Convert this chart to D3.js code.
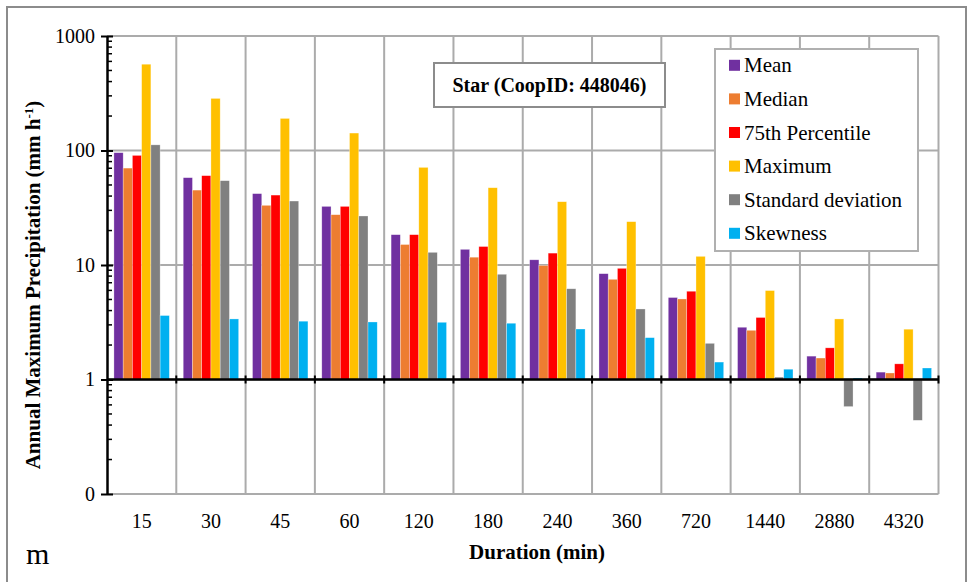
<!DOCTYPE html>
<html>
<head>
<meta charset="utf-8">
<script src="https://cdn.jsdelivr.net/npm/d3@7"></script>
<style>
  body { margin: 0; background: #fff; }
  text { font-family: 'Liberation Serif', 'Times New Roman', Tinos, 'DejaVu Serif', serif !important; }
</style>
</head>
<body>
<svg id="chart" width="967" height="582"></svg>
<script>
// durations (min)
const durations = ['15','30','45','60','120','180','240','360','720','1440','2880','4320'];
const seriesNames = ['Mean','Median','75th Percentile','Maximum','Standard deviation','Skewness'];
const seriesColors = ['#7030A0','#ED7D31','#FF0000','#FFC000','#808080','#00B0F0'];

// values (mm h-1)
const meanVals   = [95.7, 57.9, 42.0, 32.5, 18.4, 13.7, 11.1, 8.4, 5.2, 2.86, 1.60, 1.16];
const medianVals = [70.2, 45.1, 33.2, 27.5, 15.1, 11.7, 9.9, 7.5, 5.05, 2.69, 1.54, 1.14];
const p75Vals    = [90.6, 60.3, 40.8, 32.5, 18.4, 14.5, 12.7, 9.35, 5.9, 3.48, 1.89, 1.37];
const maxVals    = [567, 285, 190.6, 142, 71.2, 47.3, 35.7, 23.9, 11.9, 5.98, 3.38, 2.75];
const sdVals     = [112, 54.5, 36.2, 26.8, 12.9, 8.3, 6.2, 4.13, 2.07, 1.05, 0.58, 0.44];
const skewVals   = [3.62, 3.38, 3.23, 3.18, 3.16, 3.1, 2.76, 2.32, 1.42, 1.23, 1.03, 1.26];

const yTickVals = [0.1, 1, 10, 100, 1000];
const yTickLabels = ['0', '1', '10', '100', '1000'];

const allSeries = [meanVals, medianVals, p75Vals, maxVals, sdVals, skewVals];
const rows = [];
durations.forEach((d, i) => {
    seriesNames.forEach((s, j) => rows.push({duration: d, series: s, value: allSeries[j][i], color: seriesColors[j]}));
});

const serif = "'Liberation Serif', 'Times New Roman', Tinos, 'DejaVu Serif', serif";
const svg = d3.select('#chart');
const plot = {left: 107, right: 938.5, top: 36, bottom: 494};

// outer frame
svg.append('rect').attr('x', 7).attr('y', 7).attr('width', 959).attr('height', 600)
    .attr('fill', 'none').attr('stroke', '#8c8c8c').attr('stroke-width', 2);

const xScale = d3.scaleBand().domain(durations).range([plot.left, plot.right]).padding(0);
const xInner = d3.scaleBand().domain(seriesNames).range([0, xScale.bandwidth()])
    .paddingInner(0).paddingOuter(0.75);
const yScale = d3.scaleLog().domain([0.1, 1000]).range([plot.bottom, plot.top]);

// gridlines
const grid = svg.append('g').attr('class', 'grid').attr('stroke', '#ababab').attr('stroke-width', 2);
grid.selectAll('.hline').data(yTickVals).enter().append('line')
    .attr('x1', plot.left).attr('x2', plot.right)
    .attr('y1', d => yScale(d)).attr('y2', d => yScale(d));
const bounds = durations.map(d => xScale(d) + xScale.bandwidth());
grid.selectAll('.vline').data(bounds).enter().append('line')
    .attr('x1', d => d).attr('x2', d => d)
    .attr('y1', plot.top).attr('y2', plot.bottom);

// bars (from the 1 line, up or down)
svg.selectAll('.bars').data(rows).enter().append('rect')
    .attr('class', 'bars')
    .attr('x', d => xScale(d.duration) + xInner(d.series))
    .attr('width', xInner.bandwidth())
    .attr('y', d => Math.min(yScale(d.value), yScale(1)))
    .attr('height', d => Math.abs(yScale(d.value) - yScale(1)))
    .attr('fill', d => d.color)
    .attr('stroke', '#ffffff').attr('stroke-opacity', 0.5).attr('stroke-width', 0.6);

// y axis with minor ticks
const yAxis = d3.axisLeft(yScale).tickValues(yTickVals)
    .tickFormat((d, i) => yTickLabels[i]).tickSizeInner(6).tickSizeOuter(0).tickPadding(6);
const yAxisDraw = svg.append('g').attr('transform', `translate(${plot.left},0)`).call(yAxis)
    .attr('font-family', serif);
yAxisDraw.select('.domain').attr('stroke', '#000').attr('stroke-width', 2.5);
yAxisDraw.selectAll('.tick line').attr('stroke', '#000').attr('stroke-width', 2).attr('x2', -6).attr('x1', 6);
yAxisDraw.selectAll('text').attr('font-size', 20).attr('fill', '#000');
const minorVals = [];
[0.1, 1, 10, 100].forEach(b => { for (let k = 2; k <= 9; k++) minorVals.push(b * k); });
svg.append('g').selectAll('line').data(minorVals).enter().append('line')
    .attr('x1', plot.left).attr('x2', plot.left + 5)
    .attr('y1', d => yScale(d)).attr('y2', d => yScale(d))
    .attr('stroke', '#000').attr('stroke-width', 1.5);

// x axis line at 1
const xAxisG = svg.append('g');
xAxisG.append('line').attr('x1', plot.left).attr('x2', plot.right)
    .attr('y1', yScale(1)).attr('y2', yScale(1)).attr('stroke', '#000').attr('stroke-width', 2.5);
xAxisG.selectAll('.xt').data(bounds).enter().append('line')
    .attr('x1', d => d).attr('x2', d => d)
    .attr('y1', yScale(1) - 4).attr('y2', yScale(1) + 4)
    .attr('stroke', '#000').attr('stroke-width', 2);

// x labels at the bottom
const xAxis = d3.axisBottom(xScale).tickSize(0).tickPadding(20);
const xAxisDraw = svg.append('g').attr('transform', `translate(0,${plot.bottom})`).call(xAxis)
    .attr('font-family', serif);
xAxisDraw.select('.domain').remove();
xAxisDraw.selectAll('text').attr('font-size', 20).attr('fill', '#000');

// axis titles
svg.append('text').attr('x', 537).attr('y', 559).attr('text-anchor', 'middle')
    .attr('font-family', serif)
    .attr('font-size', 21).attr('font-weight', 'bold').text('Duration (min)');
const yTitle = svg.append('text').attr('transform', 'translate(40,285) rotate(-90)')
    .attr('font-family', serif)
    .attr('text-anchor', 'middle').attr('font-size', 21).attr('font-weight', 'bold');
yTitle.append('tspan').text('Annual Maximum Precipitation (mm h');
yTitle.append('tspan').text('-1').attr('font-size', 13).attr('dy', -7);
yTitle.append('tspan').text(')').attr('dy', 7);

svg.append('text').attr('x', 26).attr('y', 564).attr('font-family', serif)
    .attr('font-size', 30).text('m');

// station box
svg.append('rect').attr('x', 434).attr('y', 63).attr('width', 231).attr('height', 44)
    .attr('fill', '#fff').attr('stroke', '#8c8c8c').attr('stroke-width', 2);
svg.append('text').attr('x', 549.5).attr('y', 92).attr('text-anchor', 'middle')
    .attr('font-family', serif)
    .attr('font-size', 20).attr('font-weight', 'bold').text('Star (CoopID: 448046)');

// legend
const legend = svg.append('g').attr('transform', 'translate(715,49)').attr('font-family', serif);
legend.append('rect').attr('width', 203).attr('height', 202)
    .attr('fill', '#fff').attr('stroke', '#b0b0b0').attr('stroke-width', 2);
const items = legend.selectAll('.item').data(seriesNames).enter().append('g')
    .attr('transform', (d, i) => `translate(14,${16.3 + i * 33.6})`);
items.append('rect').attr('x', 0).attr('y', -5.5).attr('width', 11).attr('height', 11)
    .attr('fill', (d, i) => seriesColors[i]);
items.append('text').attr('x', 15).attr('y', 7).attr('font-size', 21).text(d => d);
</script>
</body>
</html>
